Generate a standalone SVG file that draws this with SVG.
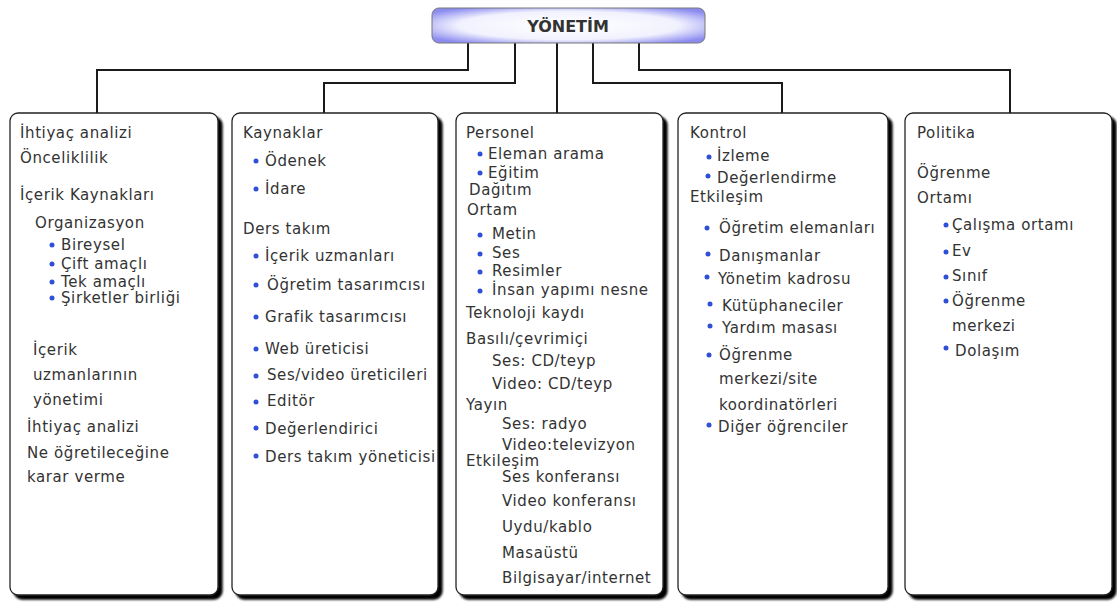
<svg xmlns="http://www.w3.org/2000/svg" width="1117" height="603" viewBox="0 0 1117 603">
<defs>
<radialGradient id="topg" cx="50%" cy="50%" r="62%">
<stop offset="0" stop-color="#ffffff"/>
<stop offset="0.65" stop-color="#f2f2ff"/>
<stop offset="1" stop-color="#8c8cf0"/>
</radialGradient>
<filter id="sh" x="-5%" y="-5%" width="115%" height="115%">
<feGaussianBlur in="SourceAlpha" stdDeviation="1"/>
<feOffset dx="3.5" dy="3.5" result="o"/>
<feMerge><feMergeNode/><feMergeNode in="SourceGraphic"/></feMerge>
</filter>
</defs>
<style>
.box{fill:#fff;stroke:#222;stroke-width:1.3;filter:url(#sh)}
.t{font-family:"DejaVu Sans",sans-serif;font-size:15px;fill:#333;letter-spacing:0.6px}
.b{fill:#2f4fd6}
.c{fill:none;stroke:#1a1a1a;stroke-width:2}
</style>
<rect width="1117" height="603" fill="#fff"/>
<g id="connectors">
<path class="c" d="M468 43V70H97V113"/>
<path class="c" d="M515 43V83H324V113"/>
<path class="c" d="M557 43V113"/>
<path class="c" d="M593 43V83H782V113"/>
<path class="c" d="M639 43V70H1010V113"/>
</g>
<g id="top">
<rect x="432" y="8" width="273" height="35" rx="7" fill="url(#topg)" stroke="#777" stroke-width="1"/>
<text x="568" y="32" text-anchor="middle" style="font-family:'DejaVu Sans',sans-serif;font-size:16px;font-weight:bold;fill:#333">YÖNETİM</text>
</g>
<g id="n1">
<rect class="box" x="10" y="113" width="208" height="482" rx="8"/>
<text class="t" x="20" y="138">İhtiyaç analizi</text>
<text class="t" x="20" y="163">Önceliklilik</text>
<text class="t" x="20" y="200">İçerik Kaynakları</text>
<text class="t" x="35" y="228">Organizasyon</text>
<circle class="b" cx="52" cy="245" r="2.5"/><text class="t" x="61" y="250">Bireysel</text>
<circle class="b" cx="52" cy="264" r="2.5"/><text class="t" x="61" y="269">Çift amaçlı</text>
<circle class="b" cx="52" cy="282" r="2.5"/><text class="t" x="61" y="287">Tek amaçlı</text>
<circle class="b" cx="52" cy="298" r="2.5"/><text class="t" x="61" y="303">Şirketler birliği</text>
<text class="t" x="33" y="355">İçerik</text>
<text class="t" x="33" y="380">uzmanlarının</text>
<text class="t" x="33" y="405">yönetimi</text>
<text class="t" x="27" y="432">İhtiyaç analizi</text>
<text class="t" x="27" y="458">Ne öğretileceğine</text>
<text class="t" x="27" y="482">karar verme</text>
</g>
<g id="n2">
<rect class="box" x="232" y="113" width="206" height="482" rx="8"/>
<text class="t" x="243" y="138">Kaynaklar</text>
<circle class="b" cx="256" cy="161" r="2.5"/><text class="t" x="265" y="166">Ödenek</text>
<circle class="b" cx="256" cy="189" r="2.5"/><text class="t" x="265" y="194">İdare</text>
<text class="t" x="243" y="234">Ders takım</text>
<circle class="b" cx="256" cy="256" r="2.5"/><text class="t" x="265" y="261">İçerik uzmanları</text>
<circle class="b" cx="256" cy="285" r="2.5"/><text class="t" x="267" y="290">Öğretim tasarımcısı</text>
<circle class="b" cx="256" cy="317" r="2.5"/><text class="t" x="265" y="322">Grafik tasarımcısı</text>
<circle class="b" cx="256" cy="349" r="2.5"/><text class="t" x="265" y="354">Web üreticisi</text>
<circle class="b" cx="256" cy="376" r="2.5"/><text class="t" x="267" y="380">Ses/video üreticileri</text>
<circle class="b" cx="256" cy="402" r="2.5"/><text class="t" x="267" y="406">Editör</text>
<circle class="b" cx="256" cy="428" r="2.5"/><text class="t" x="265" y="434">Değerlendirici</text>
<circle class="b" cx="256" cy="456" r="2.5"/><text class="t" x="265" y="462">Ders takım yöneticisi</text>
</g>
<g id="n3">
<rect class="box" x="456" y="113" width="207" height="482" rx="8"/>
<text class="t" x="466" y="138">Personel</text>
<circle class="b" cx="480" cy="154" r="2.5"/><text class="t" x="488" y="159">Eleman arama</text>
<circle class="b" cx="480" cy="173" r="2.5"/><text class="t" x="488" y="178">Eğitim</text>
<text class="t" x="469" y="195">Dağıtım</text>
<text class="t" x="467" y="215">Ortam</text>
<circle class="b" cx="480" cy="235" r="2.5"/><text class="t" x="492" y="239">Metin</text>
<circle class="b" cx="480" cy="254" r="2.5"/><text class="t" x="492" y="258">Ses</text>
<circle class="b" cx="480" cy="272" r="2.5"/><text class="t" x="492" y="276">Resimler</text>
<circle class="b" cx="480" cy="291" r="2.5"/><text class="t" x="492" y="295">İnsan yapımı nesne</text>
<text class="t" x="466" y="318">Teknoloji kaydı</text>
<text class="t" x="466" y="344">Basılı/çevrimiçi</text>
<text class="t" x="492" y="366">Ses: CD/teyp</text>
<text class="t" x="492" y="389">Video: CD/teyp</text>
<text class="t" x="466" y="410">Yayın</text>
<text class="t" x="502" y="429">Ses: radyo</text>
<text class="t" x="502" y="450">Video:televizyon</text>
<text class="t" x="466" y="466">Etkileşim</text>
<text class="t" x="502" y="482">Ses konferansı</text>
<text class="t" x="502" y="506">Video konferansı</text>
<text class="t" x="502" y="532">Uydu/kablo</text>
<text class="t" x="502" y="558">Masaüstü</text>
<text class="t" x="502" y="583">Bilgisayar/internet</text>
</g>
<g id="n4">
<rect class="box" x="678" y="113" width="210" height="482" rx="8"/>
<text class="t" x="690" y="138">Kontrol</text>
<circle class="b" cx="709" cy="157" r="2.5"/><text class="t" x="717" y="161">İzleme</text>
<circle class="b" cx="708" cy="176" r="2.5"/><text class="t" x="717" y="183">Değerlendirme</text>
<text class="t" x="690" y="202">Etkileşim</text>
<circle class="b" cx="707" cy="228" r="2.5"/><text class="t" x="719" y="233">Öğretim elemanları</text>
<circle class="b" cx="708" cy="254" r="2.5"/><text class="t" x="719" y="261">Danışmanlar</text>
<circle class="b" cx="707" cy="277" r="2.5"/><text class="t" x="718" y="284">Yönetim kadrosu</text>
<circle class="b" cx="710" cy="304" r="2.5"/><text class="t" x="722" y="311">Kütüphaneciler</text>
<circle class="b" cx="710" cy="326" r="2.5"/><text class="t" x="722" y="333">Yardım masası</text>
<circle class="b" cx="709" cy="355" r="2.5"/><text class="t" x="719" y="360">Öğrenme</text>
<text class="t" x="719" y="384">merkezi/site</text>
<text class="t" x="719" y="410">koordinatörleri</text>
<circle class="b" cx="709" cy="425" r="2.5"/><text class="t" x="718" y="432">Diğer öğrenciler</text>
</g>
<g id="n5">
<rect class="box" x="905" y="113" width="207" height="482" rx="8"/>
<text class="t" x="917" y="138">Politika</text>
<text class="t" x="917" y="178">Öğrenme</text>
<text class="t" x="917" y="203">Ortamı</text>
<circle class="b" cx="946" cy="225" r="2.5"/><text class="t" x="952" y="230">Çalışma ortamı</text>
<circle class="b" cx="946" cy="252" r="2.5"/><text class="t" x="952" y="256">Ev</text>
<circle class="b" cx="946" cy="277" r="2.5"/><text class="t" x="952" y="281">Sınıf</text>
<circle class="b" cx="946" cy="301" r="2.5"/><text class="t" x="952" y="306">Öğrenme</text>
<text class="t" x="952" y="331">merkezi</text>
<circle class="b" cx="946" cy="348" r="2.5"/><text class="t" x="955" y="356">Dolaşım</text>
</g>
</svg>
